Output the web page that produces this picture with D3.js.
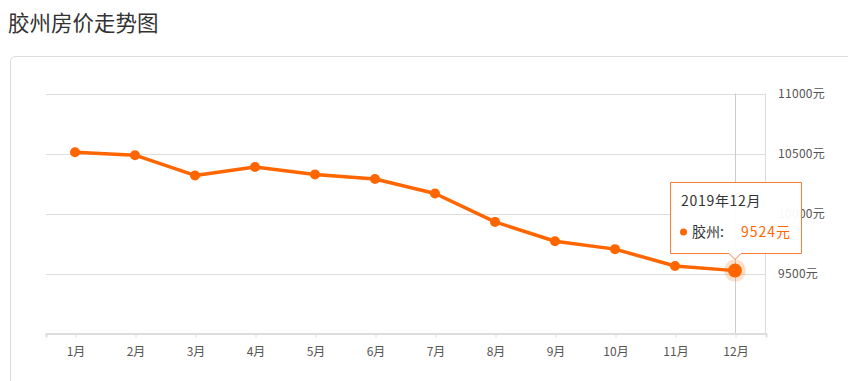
<!DOCTYPE html>
<html><head><meta charset="utf-8">
<script src="https://cdn.jsdelivr.net/npm/d3@7"></script>
<style>
html,body{margin:0;padding:0;background:#fff;overflow:hidden;}
svg{display:block;font-family:"Microsoft YaHei","Noto Sans CJK SC","DejaVu Sans",sans-serif;}
</style></head>
<body>
<svg id="c" width="848" height="381"></svg>
<script>
const title = "胶州房价走势图";
const months = ["1月","2月","3月","4月","5月","6月","7月","8月","9月","10月","11月","12月"];
const prices = [10510, 10486, 10317, 10388, 10325, 10288, 10167, 9930, 9769, 9703, 9563, 9524];
const yTicks = [9500, 10000, 10500, 11000];
const seriesName = "胶州";
const tooltipTitle = "2019年12月";
const activeIndex = 11;

(function(){
const svg = d3.select("#c");
const orange = "#ff6600";

svg.append("text").attr("x",8).attr("y",31).attr("font-size",21.5).attr("fill","#333").text(title);

// card
svg.append("path")
  .attr("d","M10.5,381 L10.5,62 Q10.5,56.5 16,56.5 L860,56.5")
  .attr("fill","none").attr("stroke","#ddd").attr("stroke-width",1);

const pL = 46, pR = 766, pT = 93.5, pB = 333.5;
const x = d3.scaleBand().domain(months).range([pL,pR]);
const y = d3.scaleLinear().domain([9000,11000]).range([pB,pT]);

// grid
const grid = svg.append("g");
grid.selectAll("line").data(yTicks).join("line")
  .attr("x1",pL).attr("x2",pR-1)
  .attr("y1",d=>Math.round(y(d))+0.5).attr("y2",d=>Math.round(y(d))+0.5)
  .attr("stroke","#ddd").attr("stroke-width",1);
// right border
svg.append("line").attr("x1",pR-0.5).attr("x2",pR-0.5).attr("y1",pT).attr("y2",pB)
  .attr("stroke","#ddd");

// right axis labels
const yAxis = d3.axisRight(y).tickValues(yTicks).tickSize(0).tickPadding(12).tickFormat(d=>d+"元");
const ya = svg.append("g").attr("transform",`translate(${pR},0)`).call(yAxis);
ya.select(".domain").remove();
ya.selectAll("text").attr("font-size",12).attr("fill","#555").attr("letter-spacing",0.3).attr("font-family","Microsoft YaHei, Noto Sans CJK SC, sans-serif");

// crosshair
const cx = Math.round(x(months[activeIndex])+x.bandwidth()/2)+0.5;
svg.append("line").attr("x1",cx-1).attr("x2",cx-1).attr("y1",pT).attr("y2",pB)
  .attr("stroke","#ccc").attr("stroke-width",1);

// x axis
const xAxis = d3.axisBottom(x).tickSizeOuter(4).tickSizeInner(4).tickPadding(10);
const xa = svg.append("g").attr("transform",`translate(0,${pB})`).call(xAxis);
xa.select(".domain").attr("stroke","#ddd").attr("stroke-width",2);
xa.selectAll(".tick line").attr("stroke","#ddd");
xa.selectAll("text").attr("font-size",12).attr("fill","#555").attr("font-family","Microsoft YaHei, Noto Sans CJK SC, sans-serif");

// line
const px = (d,i)=>x(months[i])+x.bandwidth()/2 - 1;
const line = d3.line().x((d,i)=>px(d,i)).y(d=>y(d));
svg.append("path").datum(prices).attr("d",line).attr("fill","none")
  .attr("stroke",orange).attr("stroke-width",3.5).attr("stroke-linejoin","round");
svg.selectAll("circle.pt").data(prices).join("circle").attr("class","pt")
  .attr("cx",(d,i)=>px(d,i)).attr("cy",d=>y(d)).attr("r",(d,i)=>i===activeIndex?0:5)
  .attr("fill",orange);
// active
const ax = px(prices[activeIndex],activeIndex), ay = y(prices[activeIndex]);
svg.append("circle").attr("cx",ax).attr("cy",ay).attr("r",11).attr("fill",orange).attr("fill-opacity",0.2);
svg.append("circle").attr("cx",ax).attr("cy",ay).attr("r",7).attr("fill",orange);

// tooltip
const bx0 = 670.5, bx1 = 801.5, by0 = 182.5, by1 = 253.5, tipY = by1+6;
const tip = svg.append("g");
tip.append("path")
  .attr("d",`M${bx0},${by0} L${bx1},${by0} L${bx1},${by1} L${ax+6},${by1} L${ax},${tipY} L${ax-6},${by1} L${bx0},${by1} Z`)
  .attr("fill","rgba(255,255,255,0.95)").attr("stroke","#ff7a33").attr("stroke-width",1);
tip.append("text").attr("x",681).attr("y",206).attr("font-size",14).attr("letter-spacing",0.7).attr("fill","#333").text(tooltipTitle);
tip.append("circle").attr("cx",683.5).attr("cy",232).attr("r",3.5).attr("fill",orange);
tip.append("text").attr("x",692).attr("y",237).attr("font-size",14).attr("fill","#333").text(seriesName+":");
tip.append("text").attr("x",741).attr("y",237).attr("font-size",14).attr("fill",orange).attr("letter-spacing",1).text(prices[activeIndex]+"元");
})();
</script>
</body></html>
